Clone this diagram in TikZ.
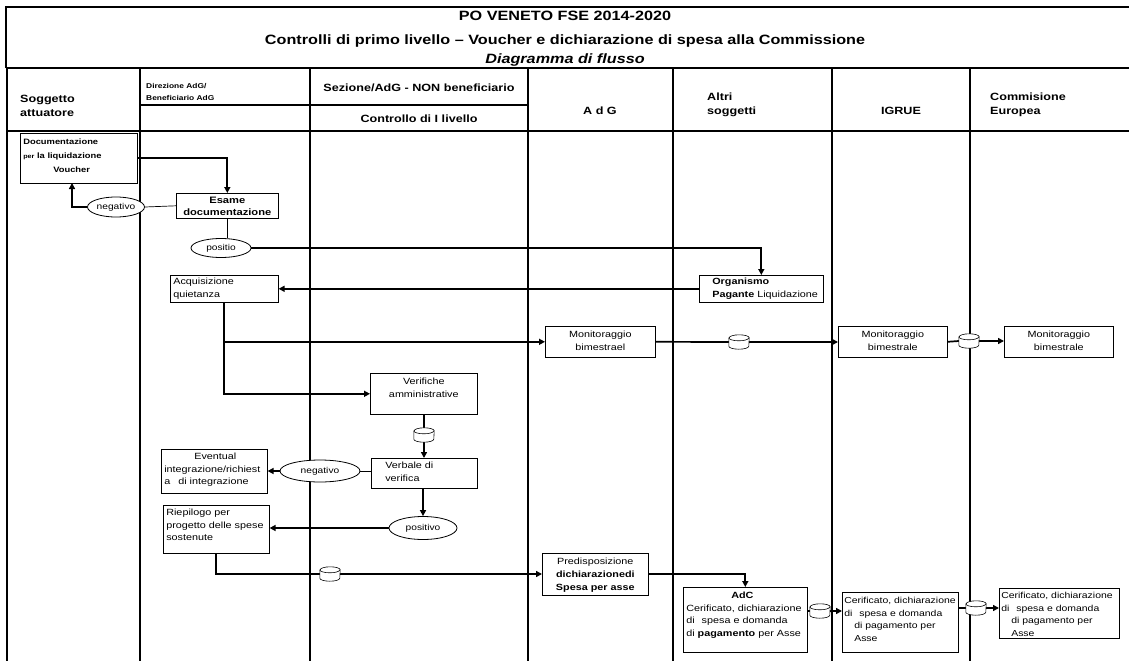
\documentclass[tikz,border=0pt]{standalone}
\usepackage{fontspec}
\setmainfont[FakeStretch=1.2]{Liberation Sans}
\usetikzlibrary{arrows.meta,shapes.geometric}
% text block of fixed size, set from its top edge
\newcommand{\toptext}[3]{\parbox[c][#2][t]{#1}{\raggedright #3}}
\newcommand{\toptextc}[3]{\parbox[c][#2][t]{#1}{\centering #3}}
\begin{document}
\begin{tikzpicture}[x=1pt,y=-1pt,
  lane/.style={line width=2.6pt},
  boxn/.style={draw, line width=0.6pt, fill=white, inner xsep=3pt, inner ysep=2pt, anchor=north west, font=\fontsize{9}{12.5}\selectfont},
  oval/.style={ellipse, draw, line width=0.8pt, fill=white, inner sep=0pt, font=\fontsize{8.5}{10}\selectfont},
  db/.style={rectangle, inner sep=0pt, minimum width=20pt, minimum height=14pt},
  conn/.style={line width=1.7pt},
  thin/.style={line width=0.7pt},
  arr/.style={line width=1.7pt, -{Triangle[length=6pt,width=6pt]}},
  hdr/.style={font=\bfseries\fontsize{10.5}{14}\selectfont, inner sep=0pt}
]
\useasboundingbox (0,0) rectangle (1129,661);

% title frame
\draw[line width=1.6pt] (6,68) -- (6,7) -- (1129,7);
\node[font=\bfseries\fontsize{13.5}{15}\selectfont] (t1) at (565,16) {PO VENETO FSE 2014-2020};
\node[font=\bfseries\fontsize{13.5}{15}\selectfont] (t2) at (565,41) {Controlli di primo livello -- Voucher e dichiarazione di spesa alla Commissione};
\node[font=\bfseries\itshape\fontsize{13.5}{15}\selectfont] (t3) at (565,60) {Diagramma di flusso};

% lane grid
\draw[lane] (6,68) -- (1129,68);
\draw[lane] (6,131) -- (1129,131);
\draw[lane] (140,105) -- (528,105);
\foreach \x in {7,140,310,528,673,832,970} \draw[lane] (\x,68) -- (\x,661);

% lane headings
\node[hdr, align=left, anchor=west] (h1) at (20,106) {Soggetto\\attuatore};
\node[hdr, font=\bfseries\fontsize{7}{12}\selectfont, align=left, anchor=west] (h2) at (146,92) {Direzione AdG/\\Beneficiario AdG};
\node[hdr] (h3) at (419,88) {Sezione/AdG - NON beneficiario};
\node[hdr] (h3b) at (419,119) {Controllo di I livello};
\node[hdr] (h4) at (600,111) {A d G};
\node[hdr, align=left, anchor=west] (h5) at (707,105) {Altri\\soggetti};
\node[hdr] (h6) at (901,111) {IGRUE};
\node[hdr, align=left, anchor=west] (h7) at (990,105) {Commisione\\Europea};

% process boxes (top left corner, text block width and height)
\node[boxn, font=\bfseries\fontsize{7.8}{14}\selectfont] (doc) at (20,133)
  {\toptext{111pt}{46pt}{\vspace*{4pt}Documentazione\\{\fontsize{6}{8}\selectfont per} la liquidazione\\\hspace*{30pt}Voucher}};
\node[boxn, font=\bfseries\fontsize{9.3}{11.5}\selectfont] (esame) at (176,193)
  {\toptextc{96pt}{21pt}{\vspace*{2pt}Esame\\documentazione}};
\node[boxn] (acq) at (170,275) {\toptext{102pt}{23pt}{\vspace*{1pt}Acquisizione\\quietanza}};
\node[boxn] (org) at (699,275)
  {\toptext{118pt}{23pt}{\vspace*{1pt}\hspace*{10pt}\textbf{Organismo}\\\hspace*{10pt}\textbf{Pagante} Liquidazione}};
\node[boxn] (mon1) at (545,326) {\toptextc{104pt}{27pt}{\vspace*{3pt}Monitoraggio\\bimestrael}};
\node[boxn] (mon2) at (838,326) {\toptextc{103pt}{27pt}{\vspace*{3pt}Monitoraggio\\bimestrale}};
\node[boxn] (mon3) at (1004,326) {\toptextc{103pt}{27pt}{\vspace*{3pt}Monitoraggio\\bimestrale}};
\node[boxn] (ver) at (370,373) {\toptextc{101pt}{37pt}{\vspace*{3pt}Verifiche\\amministrative}};
\node[boxn] (verb) at (371,458) {\toptext{100pt}{26pt}{\vspace*{2pt}\hspace*{11pt}Verbale di\\\hspace*{11pt}verifica}};
\node[boxn] (evt) at (161,449)
  {\toptext{100pt}{40pt}{\vspace*{2pt}\hspace*{30pt}Eventual\\integrazione/richiest\\a\hspace{5pt} di integrazione}};
\node[boxn] (riep) at (163,505) {\toptext{100pt}{44pt}{\vspace*{2pt}Riepilogo per\\progetto delle spese\\sostenute}};
\node[boxn, font=\fontsize{9}{13}\selectfont] (pred) at (542,553)
  {\toptextc{100pt}{38pt}{\vspace*{3pt}Predisposizione\\\textbf{dichiarazionedi}\\\textbf{Spesa per asse}}};
\node[boxn] (adc) at (683,587)
  {\toptext{118pt}{61pt}{\vspace*{3pt}\hspace*{45pt}\textbf{AdC}\\Cerificato, dichiarazione\\di\hspace{4pt} spesa e domanda\\di \textbf{pagamento} per Asse}};
\node[boxn, inner xsep=2pt, font=\fontsize{8.7}{12.5}\selectfont] (cert2) at (842,592)
  {\toptext{112pt}{56pt}{\vspace*{3pt}Cerificato, dichiarazione\\di\hspace{4pt} spesa e domanda\\\hspace*{10pt}di pagamento per\\\hspace*{10pt}Asse}};
\node[boxn, inner xsep=2pt, inner ysep=1pt, font=\fontsize{8.7}{12.5}\selectfont] (cert3) at (999,588)
  {\toptext{116pt}{48pt}{\vspace*{3pt}Cerificato, dichiarazione\\di\hspace{4pt} spesa e domanda\\\hspace*{10pt}di pagamento per\\\hspace*{10pt}Asse}};

% decisions
\node[oval, minimum width=57pt, minimum height=20pt] (neg1) at (116,207) {negativo};
\node[oval, minimum width=60pt, minimum height=19pt] (pos1) at (221,248) {positio};
\node[oval, minimum width=80pt, minimum height=22pt] (neg2) at (320,471) {negativo};
\node[oval, minimum width=68pt, minimum height=23pt] (pos2) at (423,528) {positivo};

% data stores
\node[db] (c1) at (739,342) {};
\node[db] (c2) at (969,341) {};
\node[db] (c3) at (424,435) {};
\node[db] (c4) at (330,574) {};
\node[db] (c5) at (820,611) {};
\node[db] (c6) at (976,608) {};

% connectors
\coordinate (docin) at (72,183);
\draw[arr] (doc.east) -| (esame.north);
\draw[thin] (esame.west) -- (neg1.east);
\draw[arr] (neg1.west) -| (docin);
\draw[thin] (esame.south) -- (esame.south |- pos1.north);
\draw[arr] (pos1.east) -| (org.north);
\draw[arr] (org.west |- acq.east) -- (acq.east);
\draw[arr] (acq.south) |- (mon1.west);
\draw[arr] (acq.south) |- (ver.west);
\draw[conn] (mon1.east) -- (c1.west);
\draw[arr] (c1.east) -- (c1.east -| mon2.west);
\draw[conn] (mon2.east) -- (c2.west);
\draw[arr] (c2.east) -- (c2.east -| mon3.west);
\draw[conn] (ver.south -| c3.north) -- (c3.north);
\draw[arr] (c3.south) -- (c3.south |- verb.north);
\draw[thin] (verb.west |- neg2.east) -- (neg2.east);
\draw[arr] (neg2.west) -- (evt.east |- neg2.west);
\draw[arr] (verb.south -| pos2.north) -- (pos2.north);
\draw[arr] (pos2.west) -- (riep.east |- pos2.west);
\draw[conn] (riep.south) |- (c4.west);
\draw[arr] (c4.east) -- (pred.west |- c4.east);
\draw[arr] (pred.east |- c4.east) -| (adc.north);
\draw[conn] (adc.east |- c5.west) -- (c5.west);
\draw[arr] (c5.east) -- (cert2.west |- c5.east);
\draw[conn] (cert2.east |- c6.west) -- (c6.west);
\draw[arr] (c6.east) -- (cert3.west |- c6.east);

% drum outlines of the data stores
\foreach \n in {c1,c2,c3,c4,c5,c6}{
  \draw[line width=0.6pt, fill=white]
    ([yshift=-3pt]\n.north west) -- ([yshift=3pt]\n.south west)
    arc[start angle=180, end angle=360, x radius=10pt, y radius=3pt]
    -- ([yshift=-3pt]\n.north east)
    arc[start angle=0, end angle=180, x radius=10pt, y radius=3pt] -- cycle;
  \draw[line width=0.6pt] ([yshift=-3pt]\n.north west)
    arc[start angle=180, end angle=360, x radius=10pt, y radius=3pt];
}
\end{tikzpicture}
\end{document}
